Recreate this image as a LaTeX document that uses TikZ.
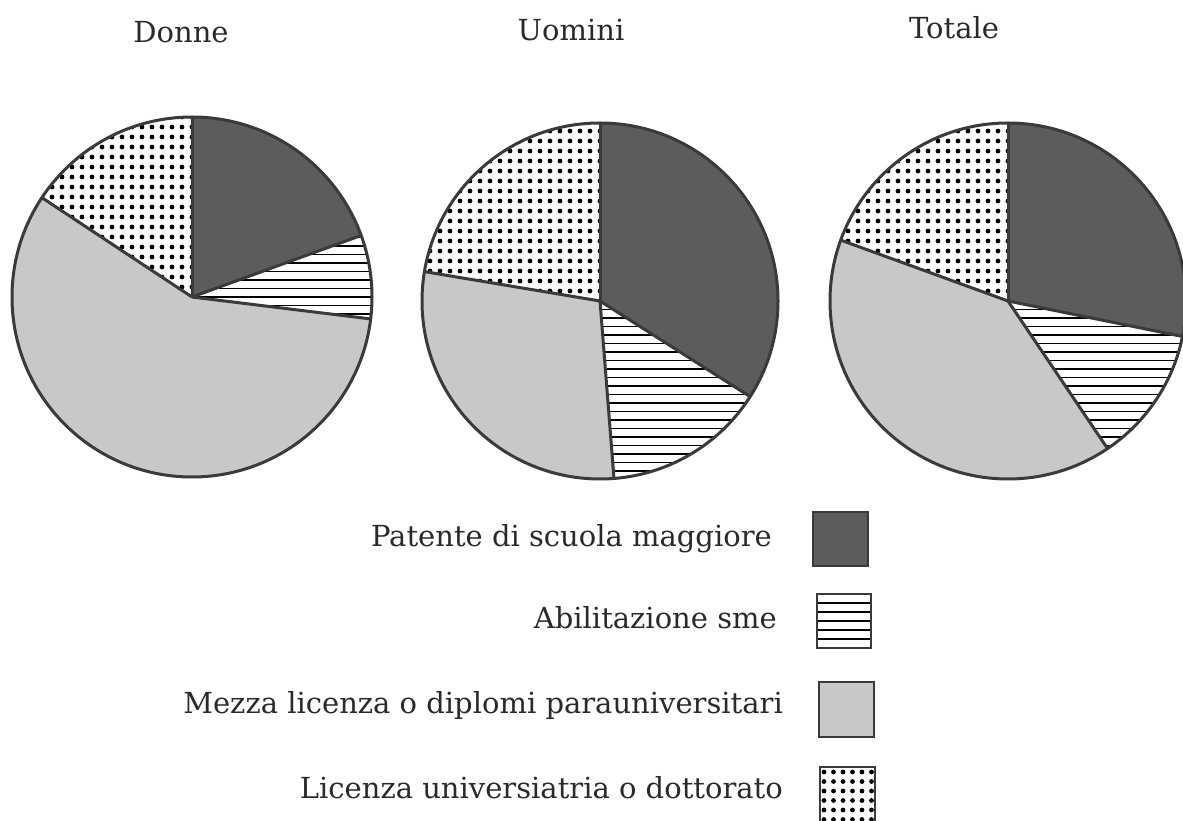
\documentclass[tikz,border=0pt]{standalone}
\usepackage{fontspec}
\setmainfont{DejaVu Serif}
\usetikzlibrary{calc}
\definecolor{darkfill}{HTML}{5C5C5C}
\definecolor{lightfill}{HTML}{C8C8C8}
\definecolor{edgecol}{HTML}{3A3A3A}
\definecolor{inkcol}{HTML}{2A2A2A}
\tikzset{
  edge/.style={draw=edgecol, line width=3pt, line join=round},
  stripeline/.style={draw=black, line width=1.9pt},
  dotmark/.style={fill=black},
  title/.style={font=\fontsize{29}{35}\selectfont, text=inkcol, inner sep=0pt, anchor=base},
  legtext/.style={font=\fontsize{29}{35}\selectfont, text=inkcol, inner sep=0pt, anchor=base east},
  legbox/.style={draw=edgecol, line width=2.5pt}
}
% #1 radius, #2 dark end, #3 stripes end, #4 light end (negative, clockwise)
\newcommand{\mypieslices}[4]{%
  \fill[darkfill] (0,0) -- (90:#1) arc[start angle=90,end angle=#2,radius=#1] -- cycle;
  \begin{scope}
    \clip (0,0) -- (#2:#1) arc[start angle=#2,end angle=#3,radius=#1] -- cycle;
    \foreach \k in {-22,...,22} \draw[stripeline] (-#1,\k*8.5) -- (#1,\k*8.5);
  \end{scope}
  \fill[lightfill] (0,0) -- (#3:#1) arc[start angle=#3,end angle=#4,radius=#1] -- cycle;
  \begin{scope}
    \clip (0,0) -- (#4:#1) arc[start angle=#4,end angle=-270,radius=#1] -- cycle;
    \foreach \i in {-18,...,18} \foreach \j in {-18,...,18} \fill[dotmark] (\i*10,\j*10) circle (2.4);
  \end{scope}
  \draw[edge] (0,0) -- (90:#1);
  \draw[edge] (0,0) -- (#2:#1);
  \draw[edge] (0,0) -- (#3:#1);
  \draw[edge] (0,0) -- (#4:#1);
  \draw[edge] (0,0) circle (#1);
}
\begin{document}
\begin{tikzpicture}[x=1pt,y=1pt]
\useasboundingbox (0,0) rectangle (1183,820);
\clip (0,0) rectangle (1183,820);
\fill[white] (0,0) rectangle (1183,820);

% titles
\node[title] (tD) at (181,777) {Donne};
\node[title] (tU) at (571,779) {Uomini};
\node[title] (tT) at (954,781) {Totale};

% pies
\begin{scope}[shift={(192,523)}]
  \coordinate (pD) at (0,0);
  \mypieslices{180}{20}{-7}{-213.5}
\end{scope}
\begin{scope}[shift={(600,519)}]
  \coordinate (pU) at (0,0);
  \mypieslices{178}{-32.5}{-85.5}{-189.5}
\end{scope}
\begin{scope}[shift={(1008,519)}]
  \coordinate (pT) at (0,0);
  \mypieslices{178}{-11.5}{-56}{-200}
\end{scope}

% legend texts
\node[legtext] (l1) at (772,273) {Patente di scuola maggiore};
\node[legtext] (l2) at (777,192) {Abilitazione sme};
\node[legtext] (l3) at (783,107) {Mezza licenza o diplomi parauniversitari};
\node[legtext] (l4) at (783,22) {Licenza universiatria o dottorato};

% legend boxes
\fill[darkfill] (813,254) rectangle (868,308);
\draw[legbox] (813,254) rectangle (868,308);

\foreach \k in {1,...,5} \draw[stripeline] (817,172+\k*9) -- (871,172+\k*9);
\draw[legbox] (817,172) rectangle (871,226);

\fill[lightfill] (819,83) rectangle (874,138);
\draw[legbox] (819,83) rectangle (874,138);

\begin{scope}
  \clip (820,-2) rectangle (875,53);
  \foreach \i in {0,...,5} \foreach \j in {0,...,5} \fill[dotmark] (824+\i*9.5,48-\j*9.5) circle (2.4);
\end{scope}
\draw[legbox] (820,-2) rectangle (875,53);
\end{tikzpicture}
\end{document}
